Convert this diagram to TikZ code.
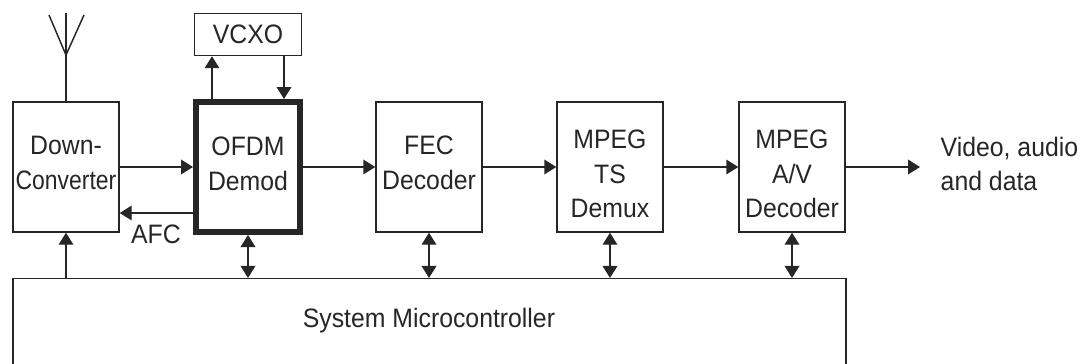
\documentclass[tikz,border=0pt]{standalone}
\usepackage{fontspec}
\setmainfont[FakeStretch=0.93]{Liberation Sans}
\newfontfamily\narrowfont[FakeStretch=0.86]{Liberation Sans}
\usepackage{tikz}
\usetikzlibrary{arrows.meta,calc}
\tikzset{
	block/.style     = {draw, inner sep = 0pt, minimum width = 79.5pt, minimum height = 97.5pt},
	osc/.style       = {draw, inner sep = 0pt, minimum width = 80pt, minimum height = 31.5pt},
	demod/.style     = {block, line width = 4.5pt, minimum width = 78pt},
	micro/.style     = {draw, inner sep = 0pt, minimum width = 625pt, minimum height = 68pt}, 
	blocktext/.style = {inner sep = 0pt, align = center},
	label/.style     = {inner sep = 0pt, align = left}
}
\newcommand{\labelfont}{\fontsize{20}{26}\selectfont}

\begin{document}
\begin{tikzpicture}[x=0.75pt, y=-0.75pt, line width=1.1pt, >={Triangle[length=9pt,width=11pt]}, font=\labelfont, color=black!85]
\useasboundingbox (0,0) rectangle (1086,364);
\draw
% Drawing the blocks of the receiver chain
node at (66,167)[block] (down) {}
node at (66,163)[blocktext] (downtext) {Down-\\{\narrowfont Converter}}
node at (248,167)[demod] (ofdm) {}
node at (248,164)[blocktext] (ofdmtext) {OFDM\\Demod}
node at (248,34.5)[osc] (vcxo) {VCXO}
node at (429,167)[block] (fec) {}
node at (429,163)[blocktext] (fectext) {FEC\\Decoder}
node at (610,167)[block] (ts) {}
node at (610,174)[blocktext] (tstext) {MPEG\\TS\\Demux}
node at (792,167)[block] (av) {}
node at (792,174)[blocktext] (avtext) {MPEG\\A/V\\Decoder}
node at (429.5,324)[micro] (mc) {}
node at (429,321)[blocktext] (mctext) {System Microcontroller}
node at (156,234)[label] (afc) {AFC}
node at (940,164)[label, anchor=west] (out) {Video, audio\\and data};

% Free ends of the antenna and the output
\coordinate (mast) at (66,13);
\coordinate (feed) at (66,55);
\coordinate (armleft) at (49,15);
\coordinate (armright) at (84,15);
\coordinate (outend) at (920,167);

\draw (down.north) -- (mast);
\draw (armleft) -- (feed) -- (armright);

\draw[->](down.east) -- (ofdm.west);
\draw[->]($(ofdm.west)+(0,46)$) -- ($(down.east)+(0,46)$);
\draw[->](ofdm.east) -- (fec.west);
\draw[->](fec.east) -- (ts.west);
\draw[->](ts.east) -- (av.west);
\draw[->](av.east) -- (outend);
\draw[->]($(ofdm.north)+(-36,0)$) -- ($(vcxo.south)+(-36,0)$);
\draw[->]($(vcxo.south)+(36,0)$) -- ($(ofdm.north)+(36,0)$);
\draw[->](down.south |- mc.north) -- (down.south);
\draw[<->](ofdm.south) -- (ofdm.south |- mc.north);
\draw[<->](fec.south) -- (fec.south |- mc.north);
\draw[<->](ts.south) -- (ts.south |- mc.north);
\draw[<->](av.south) -- (av.south |- mc.north);
\end{tikzpicture}
\end{document}
